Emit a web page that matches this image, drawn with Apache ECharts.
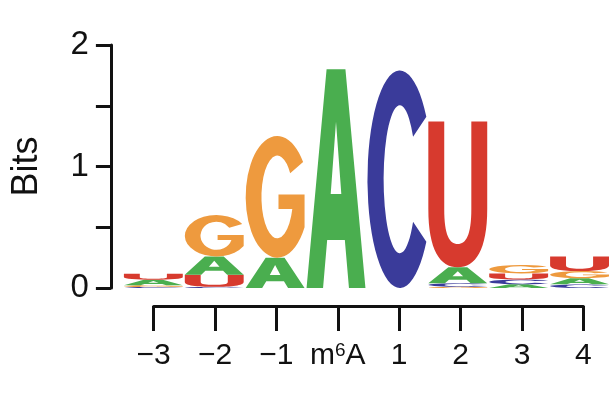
<!DOCTYPE html>
<html>
<head>
<meta charset="utf-8">
<script src="https://cdn.jsdelivr.net/npm/echarts@6.0.0/dist/echarts.min.js"></script>
<style>
    html, body { margin: 0; padding: 0; background: #fff; }
    #logo { width: 610px; height: 400px; }
</style>
</head>
<body>
<div id="logo"></div>
<script>
// positions around the m6A site, -3 .. 4
var positions = [-3, -2, -1, 0, 1, 2, 3, 4];

// information (bits) of each base at each position
var bitsA = [0.045, 0.15, 0.25, 1.80, 0, 0.13, 0.03, 0.05];
var bitsC = [0.008, 0.01, 0, 0, 1.79, 0.03, 0.04, 0.03];
var bitsG = [0.015, 0.34, 1.00, 0, 0, 0.01, 0.07, 0.06];
var bitsU = [0.05, 0.10, 0, 0, 0, 1.20, 0.05, 0.12];

var yTicks = [0, 0.5, 1, 1.5, 2];

var bases = ['A', 'C', 'G', 'U'];
var baseColors = ['#4aae4f', '#3a3b9a', '#ee9a3e', '#d73a2e'];

// glyph outlines in a 100x100 box, stretched to fit each stack slot
var glyphs = [
    'M0,100 L34,0 L66,0 L100,100 L72,100 L65,78 L35,78 L28,100 Z M41,57 L59,57 L50,24 Z',
    'M91,21.3 A50,50 0 1 0 91,78.7 L70.5,69.5 A25,34 0 1 1 70.5,30.5 Z',
    'M91,21.3 A50,50 0 1 0 93.3,75 L93.3,48 L52,48 L52,60 L73.9,60 A25,34 0 1 1 70.5,30.5 Z',
    'M0,0 L27,0 L27,60 C27,78 36,84 50,84 C64,84 73,78 73,60 L73,0 L100,0 L100,60 C100,88 80,100 50,100 C20,100 0,88 0,60 Z'
];

// build stacks: smallest at the bottom, biggest on top
var stackData = [];
positions.forEach(function (pos, i) {
    var col = [bitsA[i], bitsC[i], bitsG[i], bitsU[i]].map(function (v, k) {
        return {k: k, v: v};
    }).filter(function (d) {
        return d.v > 0;
    }).sort(function (a, b) {
        return a.v - b.v;
    });
    var y = 0;
    col.forEach(function (d) {
        stackData.push([pos, y, y + d.v, d.k]);
        y += d.v;
    });
});

var FONT = "'Liberation Sans', Arial, Helvetica, sans-serif";

var logo = echarts.init(document.getElementById('logo'));

var option = {
    backgroundColor: '#fff',
    animation: false,
    grid: [
        {left: 122.9, top: 45, width: 491.2, height: 243},
        {left: 153.6, top: 250, width: 429.8, height: 56}
    ],
    xAxis: [
        {
            gridIndex: 0,
            type: 'value',
            min: -3.5,
            max: 4.5,
            show: false
        },
        {
            gridIndex: 1,
            type: 'value',
            min: -3,
            max: 4,
            interval: 1,
            position: 'bottom',
            splitLine: {show: false},
            axisLine: {
                show: true,
                onZero: false,
                lineStyle: {color: '#111', width: 3}
            },
            axisTick: {
                show: true,
                length: 25,
                lineStyle: {color: '#111', width: 3}
            },
            axisLabel: {
                margin: 35,
                fontSize: 30,
                fontFamily: FONT,
                color: '#111',
                showMinLabel: true,
                showMaxLabel: true,
                formatter: function (v) {
                    if (v === 0) {
                        return 'm{sup|6}A';
                    }
                    return v < 0 ? '\u2212' + Math.abs(v) : String(v);
                },
                rich: {
                    sup: {
                        fontSize: 19,
                        fontFamily: FONT,
                        color: '#111',
                        verticalAlign: 'top'
                    }
                }
            }
        }
    ],
    yAxis: [
        {
            gridIndex: 0,
            type: 'value',
            min: 0,
            max: 2,
            interval: 0.5,
            offset: 12,
            name: 'Bits',
            nameLocation: 'middle',
            nameGap: 66,
            nameTextStyle: {
                fontSize: 36,
                fontFamily: FONT,
                color: '#111'
            },
            splitLine: {show: false},
            axisLine: {
                show: true,
                onZero: false,
                lineStyle: {color: '#111', width: 3}
            },
            axisTick: {
                show: true,
                length: 15,
                lineStyle: {color: '#111', width: 3}
            },
            axisLabel: {
                margin: 22,
                fontSize: 33,
                fontFamily: FONT,
                color: '#111',
                formatter: function (v) {
                    return yTicks.indexOf(v) >= 0 && v % 1 === 0 ? String(v) : '';
                }
            }
        },
        {
            gridIndex: 1,
            type: 'value',
            show: false
        }
    ],
    series: [{
        type: 'custom',
        xAxisIndex: 0,
        yAxisIndex: 0,
        silent: true,
        encode: {x: 0, y: [1, 2]},
        data: stackData,
        renderItem: function (params, api) {
            var x = api.value(0);
            var k = api.value(3);
            var topLeft = api.coord([x - 0.5, api.value(2)]);
            var bottomRight = api.coord([x + 0.5, api.value(1)]);
            return {
                type: 'path',
                shape: {
                    pathData: glyphs[k],
                    x: topLeft[0] + 1,
                    y: topLeft[1],
                    width: bottomRight[0] - topLeft[0] - 2,
                    height: bottomRight[1] - topLeft[1],
                    layout: 'cover'
                },
                style: {fill: baseColors[k]}
            };
        }
    }]
};

logo.setOption(option);

window.onresize = function () {
    logo.resize();
};
</script>
</body>
</html>
